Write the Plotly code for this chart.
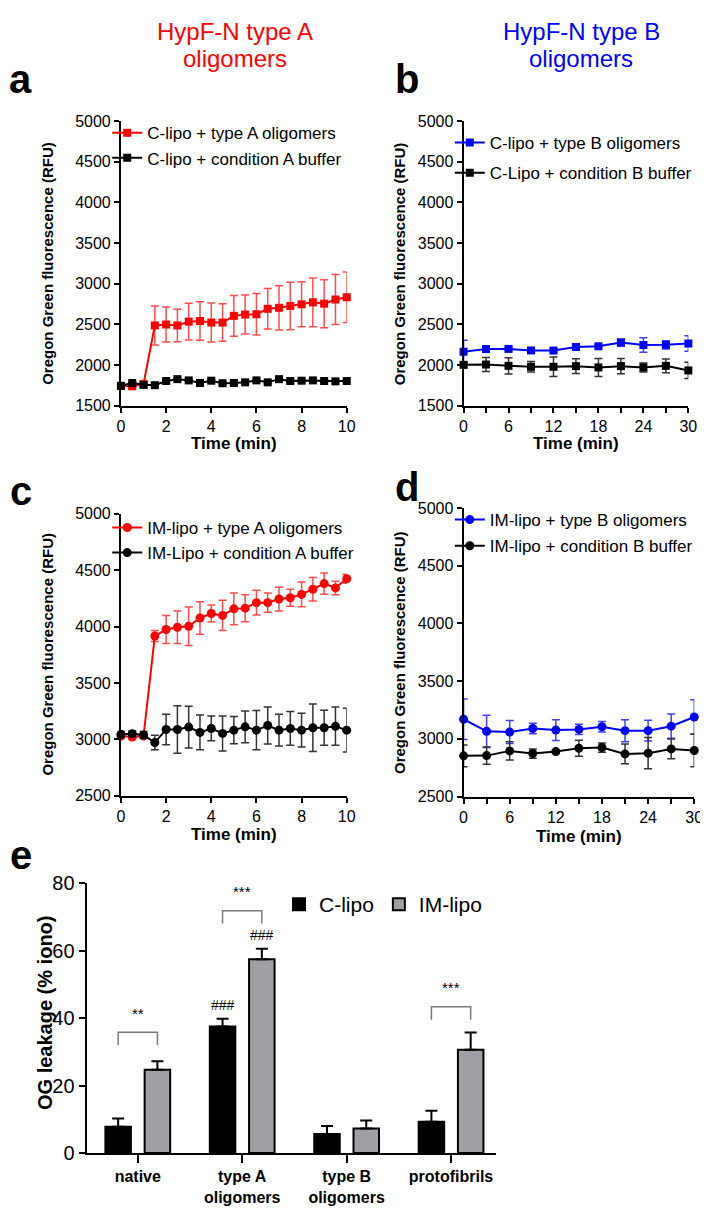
import plotly.graph_objects as go

W, H = 708, 1211

# ---- data -------------------------------------------------------------
time_a = [0, 0.5, 1, 1.5, 2, 2.5, 3, 3.5, 4, 4.5, 5, 5.5, 6, 6.5, 7, 7.5, 8, 8.5, 9, 9.5, 10]
time_b = [0, 3, 6, 9, 12, 15, 18, 21, 24, 27, 30]

a_typeA = [1745, 1740, 1770, 2488, 2500, 2488, 2535, 2543, 2524, 2524, 2606,
           2622, 2626, 2693, 2705, 2728, 2748, 2772, 2756, 2807, 2835]
a_typeA_err = [20, 20, 25, 240, 215, 200, 225, 237, 240, 230, 250,
               240, 256, 248, 272, 292, 276, 300, 295, 308, 311]
a_buffer = [1746, 1781, 1758, 1754, 1805, 1828, 1813, 1781, 1809, 1778, 1781,
            1789, 1813, 1789, 1828, 1805, 1809, 1813, 1805, 1801, 1805]
a_buffer_err = [15, 15, 15, 15, 15, 15, 15, 15, 15, 15, 15,
                15, 15, 15, 15, 15, 15, 15, 15, 15, 15]

b_typeB = [2165, 2198, 2200, 2181, 2179, 2224, 2232, 2278, 2248, 2250, 2266]
b_typeB_err = [140, 20, 20, 15, 20, 40, 20, 45, 90, 50, 95]
b_buffer = [2004, 2008, 1992, 1980, 1980, 1988, 1972, 1988, 1972, 1992, 1935]
b_buffer_err = [35, 85, 100, 65, 120, 90, 110, 95, 55, 85, 100]

c_typeA = [3029, 3020, 3029, 3916, 3974, 3994, 4003, 4076, 4116, 4099, 4157,
           4163, 4212, 4212, 4244, 4256, 4285, 4331, 4381, 4343, 4424]
c_typeA_err = [20, 20, 20, 49, 125, 145, 170, 145, 75, 135, 140,
               120, 110, 85, 105, 75, 110, 105, 95, 60, 40]
c_buffer = [3044, 3049, 3038, 2971, 3087, 3087, 3108, 3061, 3096, 3052, 3081,
            3110, 3081, 3122, 3081, 3096, 3081, 3102, 3102, 3116, 3081]
c_buffer_err = [25, 25, 30, 65, 135, 210, 185, 155, 110, 155, 120,
                140, 175, 165, 140, 150, 150, 210, 155, 170, 195]

d_typeB = [3170, 3065, 3059, 3090, 3076, 3082, 3105, 3071, 3071, 3110, 3189]
d_typeB_err = [175, 140, 100, 45, 90, 45, 45, 95, 90, 105, 150]
d_buffer = [2853, 2855, 2896, 2873, 2890, 2919, 2925, 2870, 2876, 2913, 2899]
d_buffer_err = [95, 75, 80, 40, 15, 70, 40, 85, 135, 85, 140]

e_categories = ["native", "type A<br>oligomers", "type B<br>oligomers", "protofibrils"]
e_clipo = [7.8, 37.5, 5.6, 9.3]
e_clipo_err = [2.4, 2.3, 2.4, 3.2]
e_imlipo = [24.7, 57.4, 7.3, 30.6]
e_imlipo_err = [2.5, 3.1, 2.3, 5.1]

# significance brackets (category index, bracket height, label)
sig_index = [0, 1, 3]
sig_height = [35.8, 71.8, 43.3]
sig_label = ["**", "***", "***"]

RED = "#FF0000"
BLUE = "#0000FF"
GREY = "#A0A0A4"
FONT = "Liberation Sans, Arial, sans-serif"


def px_x(p):
    return p / W


def px_y(p):
    return 1 - p / H


fig = go.Figure()


def add_series(x, y, err, color, symbol, name, xa, ya, legend, err_color=None):
    fig.add_trace(
        go.Scatter(
            x=x, y=y, name=name, mode="lines+markers",
            xaxis=xa, yaxis=ya, legend=legend, legendgroup=name,
            line=dict(color=color, width=2),
            marker=dict(symbol=symbol, size=9 if symbol == "circle" else 8, color=color),
            error_y=dict(type="data", array=err, color=err_color or color,
                         thickness=1.5, width=4),
            cliponaxis=False,
        )
    )


add_series(time_a, a_typeA, a_typeA_err, RED, "square", "C-lipo + type A oligomers",
           "x", "y", "legend", "rgba(255,0,0,0.7)")
add_series(time_a, a_buffer, a_buffer_err, "black", "square", "C-lipo + condition A buffer",
           "x", "y", "legend", "#333")
add_series(time_b, b_typeB, b_typeB_err, BLUE, "square", "C-lipo + type B oligomers",
           "x2", "y2", "legend2", "rgba(0,0,255,0.75)")
add_series(time_b, b_buffer, b_buffer_err, "black", "square", "C-Lipo + condition B buffer",
           "x2", "y2", "legend2", "#333")
add_series(time_a, c_typeA, c_typeA_err, RED, "circle", "IM-lipo + type A oligomers",
           "x3", "y3", "legend3", "rgba(255,0,0,0.7)")
add_series(time_a, c_buffer, c_buffer_err, "black", "circle", "IM-Lipo + condition A buffer",
           "x3", "y3", "legend3", "#333")
add_series(time_b, d_typeB, d_typeB_err, BLUE, "circle", "IM-lipo + type B oligomers",
           "x4", "y4", "legend4", "rgba(0,0,255,0.75)")
add_series(time_b, d_buffer, d_buffer_err, "black", "circle", "IM-lipo + condition B buffer",
           "x4", "y4", "legend4", "#333")

# panel e bars
fig.add_trace(go.Bar(
    x=e_categories, y=e_clipo, name="C-lipo", xaxis="x5", yaxis="y5", legend="legend5",
    marker=dict(color="black", line=dict(color="black", width=2)),
    error_y=dict(type="data", array=e_clipo_err, arrayminus=[0] * 4, symmetric=False,
                 color="black", thickness=2, width=6),
))
fig.add_trace(go.Bar(
    x=e_categories, y=e_imlipo, name="IM-lipo", xaxis="x5", yaxis="y5", legend="legend5",
    marker=dict(color=GREY, line=dict(color="black", width=2)),
    error_y=dict(type="data", array=e_imlipo_err, arrayminus=[0] * 4, symmetric=False,
                 color="black", thickness=2, width=6),
))

axis_common = dict(showline=True, linewidth=2, linecolor="black", ticks="outside",
                   ticklen=5, tickwidth=2, tickcolor="black", showgrid=False,
                   zeroline=False, tickfont=dict(family=FONT, size=16, color="black"))


def time_axis(domain, dtick, rng, anchor, minor=None):
    ax = dict(axis_common, domain=domain, range=rng, dtick=dtick, tick0=0, anchor=anchor,
              tickfont=dict(family=FONT, size=16, color="black"))
    if minor:
        ax["minor"] = dict(dtick=minor, ticks="outside", ticklen=5, tickwidth=2, tickcolor="black")
    return ax


def rfu_axis(domain, rng, anchor):
    return dict(axis_common, domain=domain, range=rng, dtick=500, anchor=anchor)


fig.update_layout(
    width=W, height=H, autosize=False,
    margin=dict(l=0, r=0, t=0, b=0),
    paper_bgcolor="white", plot_bgcolor="white",
    font=dict(family=FONT, color="black"),
    barmode="group", bargap=0.248, bargroupgap=0.35,
    xaxis=time_axis([px_x(111), px_x(341)], 2, [0, 10], "y"),
    yaxis=rfu_axis([px_y(394), px_y(104)], [1500, 5000], "x"),
    xaxis2=time_axis([px_x(460), px_x(689)], 6, [0, 30], "y2", minor=3),
    yaxis2=rfu_axis([px_y(394), px_y(104)], [1500, 5000], "x2"),
    xaxis3=time_axis([px_x(111), px_x(341)], 2, [0, 10], "y3"),
    yaxis3=rfu_axis([px_y(791), px_y(504)], [2500, 5000], "x3"),
    xaxis4=time_axis([px_x(460), px_x(695)], 6, [0, 30], "y4", minor=3),
    yaxis4=rfu_axis([px_y(792), px_y(498)], [2500, 5000], "x4"),
    xaxis5=dict(axis_common, domain=[px_x(76), px_x(493)], range=[-0.49, 3.43],
                anchor="y5", ticklen=8,
                tickfont=dict(family=FONT, size=16, color="black", weight="bold")),
    yaxis5=dict(axis_common, domain=[px_y(1155), px_y(880)], range=[0, 80], dtick=20,
                anchor="x5", ticklen=6,
                tickfont=dict(family=FONT, size=20, color="black")),
)

legend_common = dict(bgcolor="rgba(0,0,0,0)", font=dict(family=FONT, size=17, color="black"),
                     xanchor="left", yanchor="top", itemwidth=30, tracegroupgap=0)
fig.update_layout(
    legend=dict(legend_common, x=px_x(97), y=px_y(98)),
    legend2=dict(legend_common, x=px_x(446), y=px_y(108), tracegroupgap=5),
    legend3=dict(legend_common, x=px_x(97), y=px_y(500)),
    legend4=dict(legend_common, x=px_x(446), y=px_y(492), tracegroupgap=1),
    legend5=dict(bgcolor="rgba(0,0,0,0)", orientation="h", x=px_x(272), y=px_y(902),
                 xanchor="left", yanchor="middle", itemwidth=30,
                 font=dict(family=FONT, size=21, color="black")),
)

ann = []
# panel titles
for cx, color, lines in [(227, RED, ["HypF-N type A", "oligomers"]),
                         (580, BLUE, ["HypF-N type B", "oligomers"])]:
    for i, line in enumerate(lines):
        ann.append(dict(x=px_x(cx), y=px_y(13 + 27 * i), xref="paper", yref="paper",
                        text=line, showarrow=False, xanchor="center", yanchor="middle",
                        font=dict(family=FONT, size=24, color=color)))
# panel letters
for letter, lx, ly in [("a", 9, 61), ("b", 402, 61), ("c", 9, 481), ("d", 402, 477), ("e", 9, 851)]:
    ann.append(dict(x=px_x(lx), y=px_y(ly), xref="paper", yref="paper",
                    text=f"<b>{letter}</b>", showarrow=False,
                    xanchor="center", yanchor="middle",
                    font=dict(family=FONT, size=40, color="black")))
# axis titles
for tx, ty in [(36, 249), (395, 249), (36, 647), (395, 645)]:
    ann.append(dict(x=px_x(tx), y=px_y(ty), xref="paper", yref="paper",
                    text="<b>Oregon Green fluorescence (RFU)</b>",
                    showarrow=False, textangle=-90, xanchor="center", yanchor="middle",
                    font=dict(family=FONT, size=15, color="black")))
for tx, ty in [(226, 432), (575, 432), (226, 831), (578, 833)]:
    ann.append(dict(x=px_x(tx), y=px_y(ty), xref="paper", yref="paper",
                    text="<b>Time (min)</b>", showarrow=False,
                    xanchor="center", yanchor="middle",
                    font=dict(family=FONT, size=17, color="black")))
ann.append(dict(x=px_x(33), y=px_y(1012), xref="paper", yref="paper",
                text="<b>OG leakage (% iono)</b>", showarrow=False,
                textangle=-90, xanchor="center", yanchor="middle",
                font=dict(family=FONT, size=20, color="black")))

# significance brackets and hash marks in panel e
offset = 0.188
shapes = []
for idx, hgt, lab in zip(sig_index, sig_height, sig_label):
    x0, x1 = idx - offset, idx + offset
    shapes.append(dict(type="path", xref="x5", yref="y5",
                       path=f"M {x0},{hgt - 3.8} L {x0},{hgt} L {x1},{hgt} L {x1},{hgt - 3.8}",
                       line=dict(color="#7a7a7a", width=1.5)))
    ann.append(dict(x=idx, y=hgt + 2.5, xref="x5", yref="y5", text=lab, showarrow=False,
                    yanchor="bottom", font=dict(family=FONT, size=15, color="black")))
for xi, yv, ev in [(1 - offset, e_clipo[1], e_clipo_err[1]), (1 + offset, e_imlipo[1], e_imlipo_err[1])]:
    ann.append(dict(x=xi, y=yv + ev + 1.0, xref="x5", yref="y5", text="###", showarrow=False,
                    yanchor="bottom", font=dict(family=FONT, size=14, color="black")))

fig.update_layout(annotations=ann, shapes=shapes)

fig.write_html("out.html")
